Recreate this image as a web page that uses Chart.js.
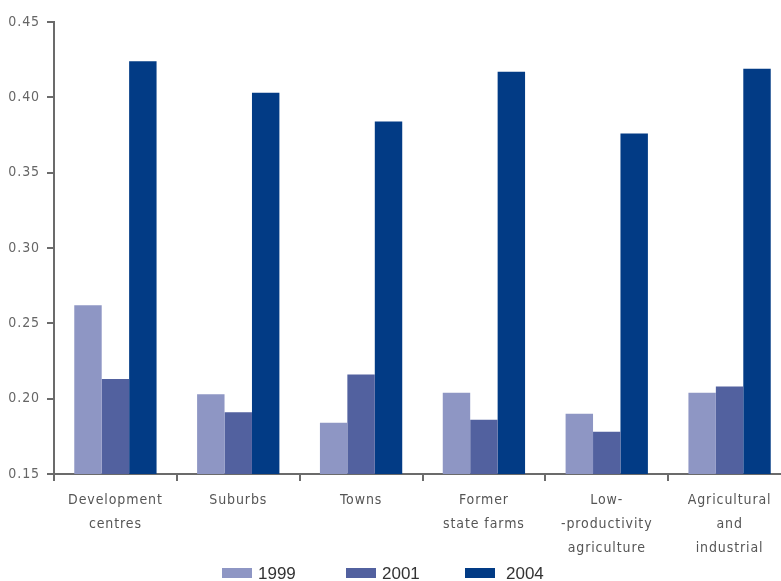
<!DOCTYPE html>
<html>
<head>
<meta charset="utf-8">
<script src="https://cdn.jsdelivr.net/npm/chart.js@4/dist/chart.umd.min.js"></script>
<style>
  html, body { margin: 0; padding: 0; background: #fff; overflow: hidden; }
  #wrap { width: 795px; height: 581px; }
</style>
</head>
<body>
<div id="wrap"><canvas id="barChart"></canvas></div>
<script>
// Regional groups, three survey years
const categories = [
  ['Development', 'centres'],
  ['Suburbs'],
  ['Towns'],
  ['Former', 'state farms'],
  ['Low-', '-productivity', 'agriculture'],
  ['Agricultural', 'and', 'industrial']
];
const years = ['1999', '2001', '2004'];
const values1999 = [0.262, 0.203, 0.184, 0.204, 0.190, 0.204];
const values2001 = [0.213, 0.191, 0.216, 0.186, 0.178, 0.208];
const values2004 = [0.424, 0.403, 0.384, 0.417, 0.376, 0.419];
const yTicks = [0.15, 0.20, 0.25, 0.30, 0.35, 0.40, 0.45];

const colors = ['#8e96c4', '#52619f', '#023b85'];
const axisGrey = '#6b6b6b';
const narrow = "'DejaVu Sans Condensed', 'DejaVu Sans', sans-serif";

// legend drawn by hand so the items can sit wide apart like the original
const legendX = [222, 346, 465];
const bottomLegend = {
  id: 'bottomLegend',
  afterDraw(chart) {
    const c = chart.ctx;
    c.save();
    c.letterSpacing = '0px';
    c.font = "17px 'Liberation Sans', Arial, sans-serif";
    c.textBaseline = 'middle';
    chart.data.datasets.forEach((ds, i) => {
      const x = legendX[i];
      c.fillStyle = ds.backgroundColor;
      c.fillRect(x, 568, 30, 10);
      c.fillStyle = '#333';
      c.fillText(ds.label, x + 36 + (i === 2 ? 5 : 0), 574);
    });
    c.restore();
  }
};

const spacingPlugin = {
  id: 'spacing',
  beforeDraw(chart) { chart.ctx.letterSpacing = '0.9px'; }
};

const ctx = document.getElementById('barChart').getContext('2d');
new Chart(ctx, {
  type: 'bar',
  data: {
    labels: categories,
    datasets: [
      { label: years[0], data: values1999, backgroundColor: colors[0] },
      { label: years[1], data: values2001, backgroundColor: colors[1] },
      { label: years[2], data: values2004, backgroundColor: colors[2] }
    ]
  },
  options: {
    responsive: true,
    maintainAspectRatio: false,
    animation: false,
    datasets: { bar: { categoryPercentage: 0.67, barPercentage: 1.0 } },
    layout: { padding: { left: 0, right: 4, top: 22, bottom: 0 } },
    scales: {
      x: {
        grid: { display: true, drawOnChartArea: false, offset: true, color: axisGrey, lineWidth: 2, tickLength: 7 },
        border: { color: axisGrey, width: 2 },
        ticks: { color: '#555', padding: 7, maxRotation: 0, autoSkip: false,
                 font: { family: narrow, size: 14, lineHeight: '24px' } },
        afterFit(scale) { scale.height = 107; }
      },
      y: {
        min: 0.15,
        max: 0.45,
        afterBuildTicks(scale) { scale.ticks = yTicks.map(v => ({ value: v })); },
        grid: { display: true, drawOnChartArea: false, color: axisGrey, lineWidth: 2, tickLength: 7 },
        border: { color: axisGrey, width: 2 },
        ticks: { color: '#666', padding: 7,
                 font: { family: narrow, size: 14 },
                 callback: v => Number(v).toFixed(2) },
        afterFit(scale) { scale.width = 54; }
      }
    },
    plugins: {
      legend: { display: false },
      tooltip: { enabled: false }
    }
  },
  plugins: [spacingPlugin, bottomLegend]
});
</script>
</body>
</html>
